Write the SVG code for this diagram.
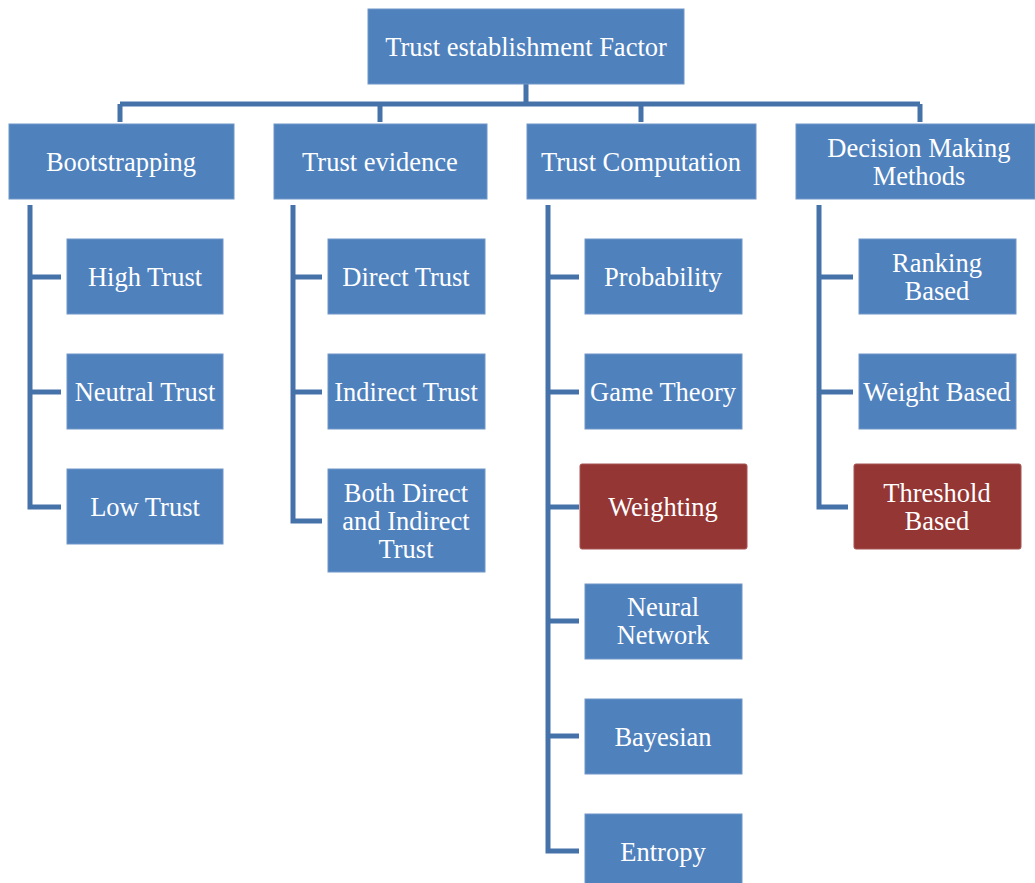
<svg xmlns="http://www.w3.org/2000/svg" width="1035" height="883" viewBox="0 0 1035 883">
<style>
.b{fill:#4F81BD;stroke:#6F97C8;stroke-width:1}
.r{fill:#943634;stroke:#A55452;stroke-width:1}
.t{font-family:"Liberation Serif",serif;font-size:26.5px;fill:#fff;text-anchor:middle;dominant-baseline:central}
.c{fill:none;stroke:#4672AA;stroke-width:5}
</style>
<rect width="1035" height="883" fill="#fff"/>
<g id="connectors">
<path class="c" d="M526 84V104M120 104H920M120 104V122M380 104V122M641 104V122M920 104V122" stroke="#3E6A9E"/>
<path class="c" d="M30 205V507H61M30 277H61M30 392H61"/>
<path class="c" d="M293 205V521H322M293 277H322M293 392H322"/>
<path class="c" d="M548 205V851H579M548 277H579M548 392H579M548 507H579M548 621H579M548 736H579"/>
<path class="c" d="M819 205V507H848M819 277H853M819 392H853"/>
</g>
<g id="root"><rect class="b" x="368" y="9" width="316" height="75"/><text class="t" x="526" y="47">Trust establishment Factor</text></g>
<g id="bootstrapping"><rect class="b" x="9" y="124" width="225" height="75"/><text class="t" x="121" y="162">Bootstrapping</text></g>
<g id="trust-evidence"><rect class="b" x="274" y="124" width="213" height="75"/><text class="t" x="380" y="162">Trust evidence</text></g>
<g id="trust-computation"><rect class="b" x="527" y="124" width="229" height="75"/><text class="t" x="641" y="162">Trust Computation</text></g>
<g id="decision-making"><rect class="b" x="796" y="124" width="239" height="75"/><text class="t" x="919" y="148">Decision Making</text><text class="t" x="919" y="176">Methods</text></g>
<g id="high-trust"><rect class="b" x="67" y="239" width="156" height="75"/><text class="t" x="145" y="277">High Trust</text></g>
<g id="neutral-trust"><rect class="b" x="67" y="354" width="156" height="75"/><text class="t" x="145" y="392">Neutral Trust</text></g>
<g id="low-trust"><rect class="b" x="67" y="469" width="156" height="75"/><text class="t" x="145" y="507">Low Trust</text></g>
<g id="direct-trust"><rect class="b" x="328" y="239" width="157" height="75"/><text class="t" x="406" y="277">Direct Trust</text></g>
<g id="indirect-trust"><rect class="b" x="328" y="354" width="157" height="75"/><text class="t" x="406" y="392">Indirect Trust</text></g>
<g id="both-trust"><rect class="b" x="328" y="469" width="157" height="103"/><text class="t" x="406" y="493">Both Direct</text><text class="t" x="406" y="521">and Indirect</text><text class="t" x="406" y="549">Trust</text></g>
<g id="probability"><rect class="b" x="585" y="239" width="157" height="75"/><text class="t" x="663" y="277">Probability</text></g>
<g id="game-theory"><rect class="b" x="585" y="354" width="157" height="75"/><text class="t" x="663" y="392">Game Theory</text></g>
<g id="weighting"><rect class="r" x="580" y="464" width="167" height="85" rx="2"/><text class="t" x="663" y="507">Weighting</text></g>
<g id="neural-network"><rect class="b" x="585" y="584" width="157" height="75"/><text class="t" x="663" y="607">Neural</text><text class="t" x="663" y="635">Network</text></g>
<g id="bayesian"><rect class="b" x="585" y="699" width="157" height="75"/><text class="t" x="663" y="737">Bayesian</text></g>
<g id="entropy"><rect class="b" x="585" y="814" width="157" height="75"/><text class="t" x="663" y="852">Entropy</text></g>
<g id="ranking"><rect class="b" x="859" y="239" width="157" height="75"/><text class="t" x="937" y="263">Ranking</text><text class="t" x="937" y="291">Based</text></g>
<g id="weight-based"><rect class="b" x="859" y="354" width="157" height="75"/><text class="t" x="937" y="392">Weight Based</text></g>
<g id="threshold"><rect class="r" x="854" y="464" width="167" height="85" rx="2"/><text class="t" x="937" y="493">Threshold</text><text class="t" x="937" y="521">Based</text></g>
</svg>
